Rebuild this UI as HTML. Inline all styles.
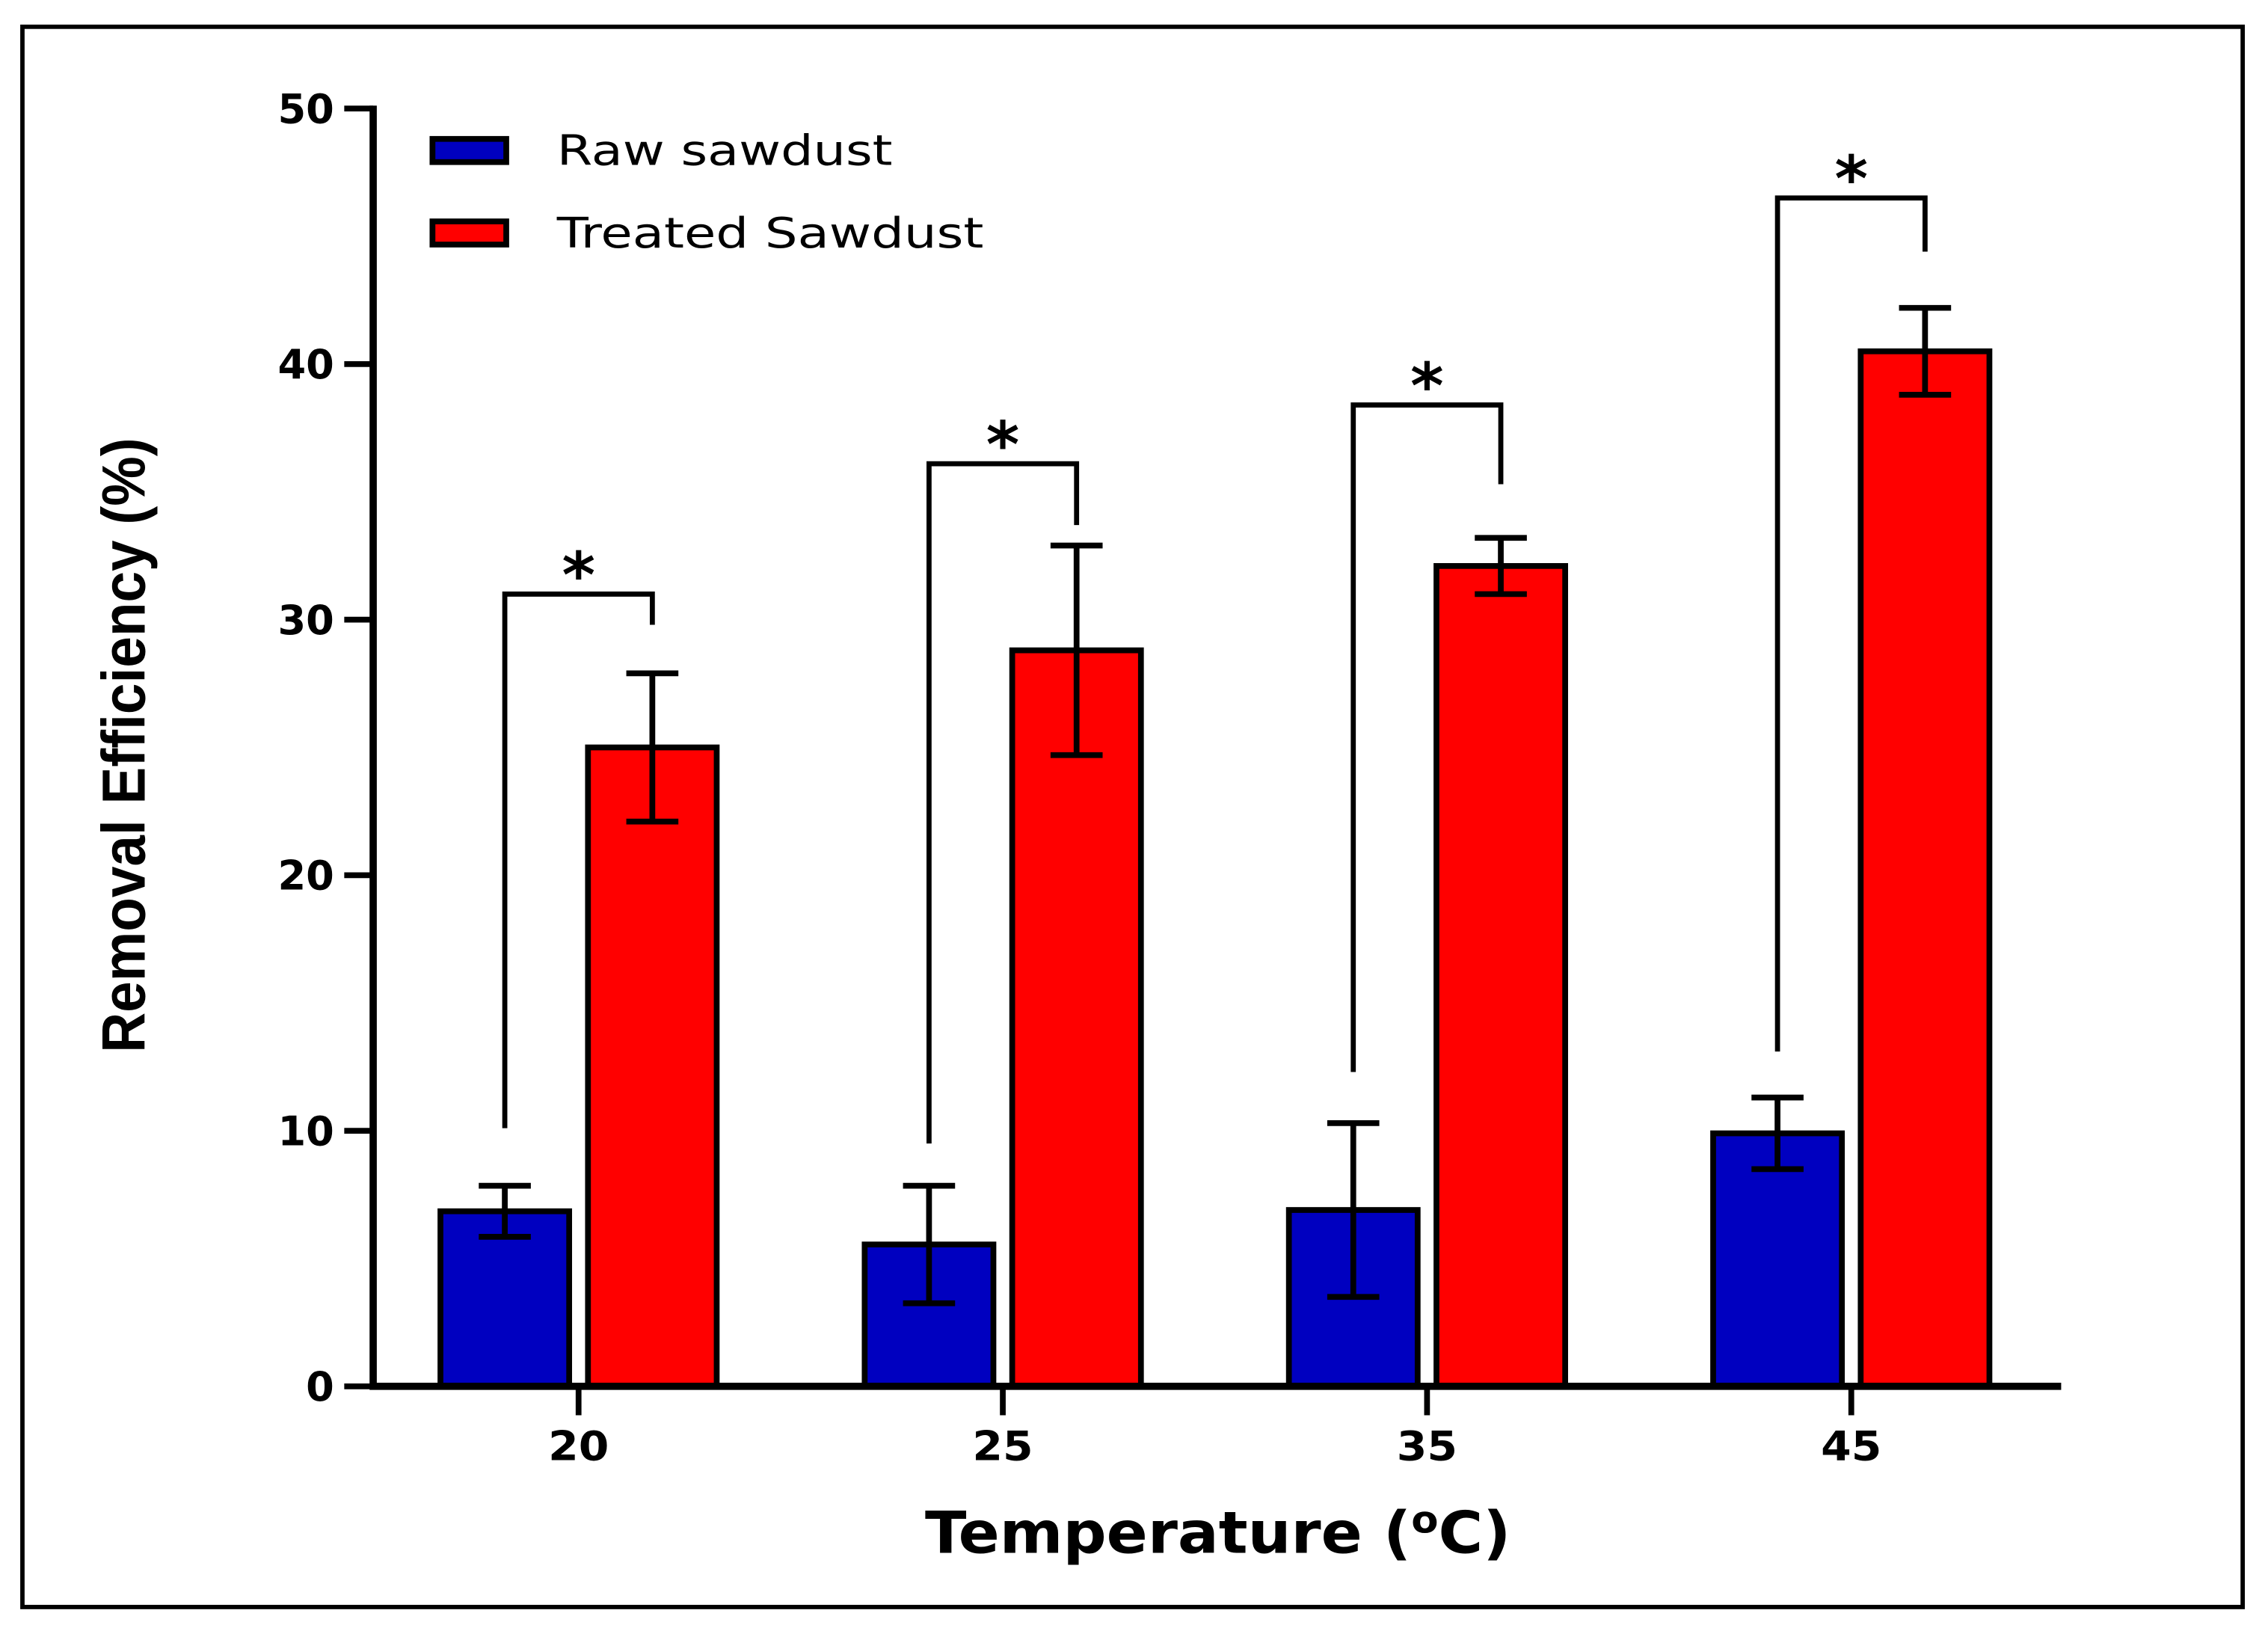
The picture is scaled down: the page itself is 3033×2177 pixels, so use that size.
<!DOCTYPE html>
<html><head><meta charset="utf-8"><style>
html,body{margin:0;padding:0;background:#fff;}
svg{display:block;}
text{font-family:"DejaVu Sans","Liberation Sans",sans-serif;font-weight:bold;fill:#000;}
</style></head><body>
<svg id="chart" width="3033" height="2177" viewBox="0 0 1568 1125" preserveAspectRatio="none" xmlns="http://www.w3.org/2000/svg">
<rect x="15.5" y="18.5" width="1535" height="1092" fill="#fff" stroke="#000" stroke-width="3"/>
<g id="plot"></g>
</svg>
<script>
const categories = ["20","25","35","45"];
const rawValues = [6.85, 5.55, 6.9, 9.9];
const rawErrors = [1.0, 2.3, 3.4, 1.4];
const treatedValues = [25.0, 28.8, 32.1, 40.5];
const treatedErrors = [2.9, 4.1, 1.1, 1.7];
const bracketLeft = [10.1, 9.5, 12.3, 13.1];
const bracketTop = [31.0, 36.1, 38.4, 46.5];
const bracketRight = [29.8, 33.7, 35.3, 44.4];
const yTicks = [0, 10, 20, 30, 40, 50];

const NS = "http://www.w3.org/2000/svg";
const g = document.getElementById("plot");
const X0 = 258, X1 = 1425, Y0 = 958, Y1 = 75, YMAX = 50;
function y(v){ return Y0 - v / YMAX * (Y0 - Y1); }
const catStart = 400, catStep = 293.3;
function xc(i){ return catStart + i * catStep; }
function mk(tag, attrs, parent){
  const e = document.createElementNS(NS, tag);
  for (const k in attrs) e.setAttribute(k, attrs[k]);
  (parent || g).appendChild(e);
  return e;
}
const BW = 89, OFF = 51;
for (let i = 0; i < categories.length; i++) {
  const cx = xc(i);
  const series = [[rawValues[i], rawErrors[i], cx - OFF, "#0000c0", "raw"], [treatedValues[i], treatedErrors[i], cx + OFF, "#ff0000", "treated"]];
  for (const s of series) {
    const [v, e, bx, col, nm] = s;
    const r = mk("rect", {x: bx - BW/2, y: y(v), width: BW, height: Y0 - y(v), fill: col, stroke: "#000", "stroke-width": 4});
    
    
    const eb = mk("path", {d: `M${bx} ${y(v+e)}V${y(v-e)}M${bx-18} ${y(v+e)}H${bx+18}M${bx-18} ${y(v-e)}H${bx+18}`, stroke: "#000", "stroke-width": 4, fill: "none"});
    
    
  }
  const lx = cx - OFF, rx = cx + OFF;
  const br = mk("path", {d: `M${lx} ${y(bracketLeft[i])}V${y(bracketTop[i])}H${rx}V${y(bracketRight[i])}`, stroke: "#000", "stroke-width": 3.5, fill: "none"});
  
  
  const st = mk("text", {x: cx, y: y(bracketTop[i]) + 2, "text-anchor": "middle", "font-size": 44});
  st.textContent = "*";
  
  
  const tk = mk("line", {x1: cx, x2: cx, y1: Y0, y2: Y0 + 20, stroke: "#000", "stroke-width": 4});
  
  
  const tl = mk("text", {x: cx, y: Y0 + 51, "text-anchor": "middle", "font-size": 28, textLength: 42, lengthAdjust: "spacingAndGlyphs"});
  tl.textContent = categories[i];
  
  
}
for (const t of yTicks) {
  const tk = mk("line", {x1: X0 - 20, x2: X0, y1: y(t), y2: y(t), stroke: "#000", "stroke-width": 4});
  
  
  const tl = mk("text", {x: X0 - 27, y: y(t) + 10, "text-anchor": "end", "font-size": 28});
  tl.textContent = t;
  
  
}
const ax = mk("path", {d: `M${X0} ${Y1-2}V${Y0}H${X1}`, stroke: "#000", "stroke-width": 5, fill: "none"});



const leg = [["Raw sawdust", "#0000c0", 104, 232], ["Treated Sawdust", "#ff0000", 161, 295]];
for (const l of leg) {
  const r = mk("rect", {x: 299, y: l[2] - 8, width: 51, height: 16, fill: l[1], stroke: "#000", "stroke-width": 4});
  
  
  const t = mk("text", {x: 385, y: l[2] + 10, "font-size": 29, style: "font-weight:normal", textLength: l[3], lengthAdjust: "spacingAndGlyphs"});
  t.textContent = l[0];
  
  
}
const xt = mk("text", {x: 842, y: 1073, "text-anchor": "middle", "font-size": 40, textLength: 405, lengthAdjust: "spacingAndGlyphs"});
xt.innerHTML = 'Temperature (<tspan dy="-14" font-size="26">o</tspan><tspan dy="14">C)</tspan>';


const yt = mk("text", {x: 0, y: 0, "text-anchor": "middle", "font-size": 42, transform: "translate(100,515) rotate(-90)", textLength: 425, lengthAdjust: "spacingAndGlyphs", style: "font-family:'Liberation Sans',sans-serif"});
yt.textContent = "Removal Efficiency (%)";


</script>
</body></html>
